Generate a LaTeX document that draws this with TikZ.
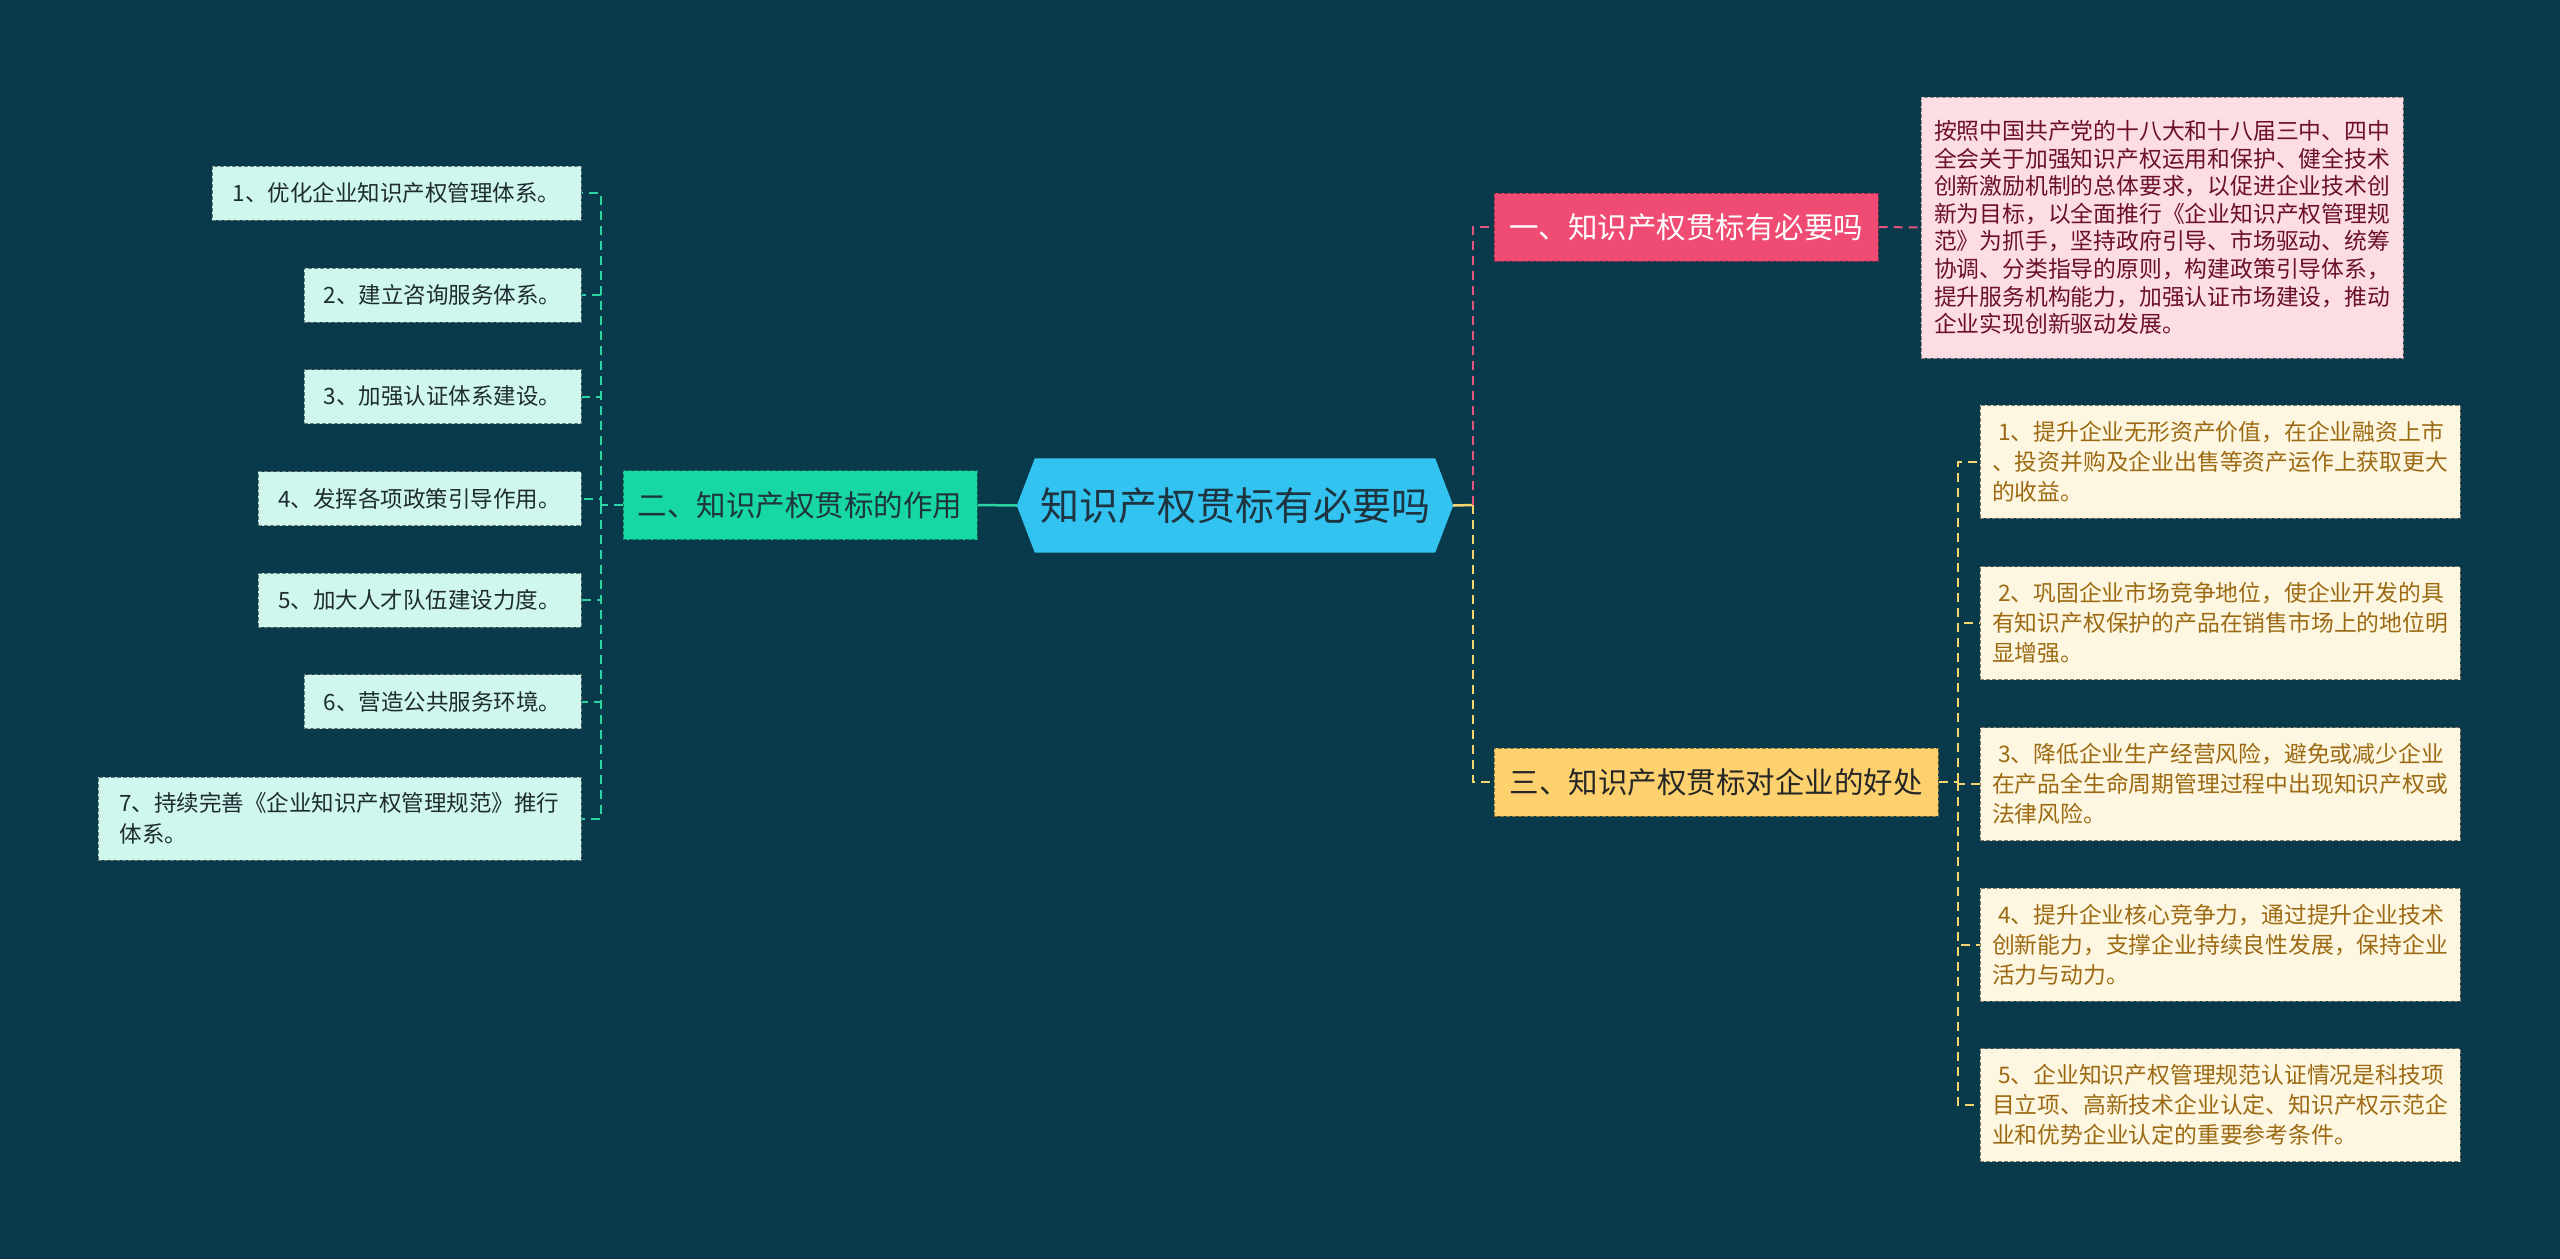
\documentclass[tikz,border=0pt]{standalone}
\usepackage{fontspec}
\newfontfamily\cjk{Noto Sans CJK SC}
\usetikzlibrary{calc}
\definecolor{bg}{RGB}{8,58,76}
\definecolor{ccol}{RGB}{51,195,240}
\definecolor{ctxt}{RGB}{30,52,64}
\definecolor{pcol}{RGB}{239,75,115}
\definecolor{ycol}{RGB}{253,210,110}
\definecolor{gcol}{RGB}{23,215,162}
\definecolor{dfill}{RGB}{252,221,227}
\definecolor{dtxt}{RGB}{107,16,40}
\definecolor{rfill}{RGB}{253,246,225}
\definecolor{rtxt}{RGB}{156,106,18}
\definecolor{lfill}{RGB}{207,247,238}
\definecolor{ltxt}{RGB}{30,43,48}
\definecolor{pline}{RGB}{228,85,126}
\definecolor{yline}{RGB}{245,214,110}
\definecolor{gline}{RGB}{44,211,163}
\begin{document}
\begin{tikzpicture}[x=1pt,y=-1pt,
  boxbase/.style={draw, dash pattern=on 4pt off 2pt, line width=1pt, inner sep=0pt},
  branchbox/.style={boxbase, font=\cjk\fontsize{29.5pt}{34pt}\selectfont},
  descbox/.style={boxbase, fill=dfill, draw=dfill!60!black, text=dtxt, align=left,
    minimum width=482, minimum height=261, font=\cjk\fontsize{22.8pt}{27.6pt}\selectfont},
  rbox/.style={boxbase, fill=rfill, draw=rfill!50!black, text=rtxt, align=left,
    minimum width=480, minimum height=113, font=\cjk\fontsize{22.8pt}{30pt}\selectfont},
  lbox/.style={boxbase, fill=lfill, draw=lfill!50!black, text=ltxt, align=left,
    minimum height=54, font=\cjk\fontsize{22.5pt}{31pt}\selectfont},
  conn/.style={line width=2pt, dash pattern=on 9pt off 6pt},
]
\useasboundingbox (0,0) rectangle (2560,1259);
\fill[bg] (0,0) rectangle (2560,1259);

% central node
\node[inner sep=0, minimum width=400, minimum height=94] (c) at (1235,505.5) {};
\fill[ccol] (c.north west) -- (c.north east) -- ($(c.east)+(18,0)$) -- (c.south east)
  -- (c.south west) -- ($(c.west)+(-18,0)$) -- cycle;
\node[font=\cjk\fontsize{39pt}{44pt}\selectfont, text=ctxt] (ct) at (c) {知识产权贯标有必要吗};
\coordinate (cE) at ($(c.east)+(18,0)$);
\coordinate (cW) at ($(c.west)+(-18,0)$);

% branches
\node[branchbox, fill=pcol, draw=pcol!60!black, text=white, minimum width=384, minimum height=68] (p) at (1686,227) {一、知识产权贯标有必要吗};
\node[branchbox, fill=ycol, draw=ycol!55!black, text=black!85, minimum width=444, minimum height=68] (y) at (1716,782) {三、知识产权贯标对企业的好处};
\node[branchbox, fill=gcol, draw=gcol!55!black, text=ctxt, minimum width=354, minimum height=69] (g) at (800,505) {二、知识产权贯标的作用};

% description
\node[descbox] (d) at (2162,227.5) {按照中国共产党的十八大和十八届三中、四中\\全会关于加强知识产权运用和保护、健全技术\\创新激励机制的总体要求，以促进企业技术创\\新为目标，以全面推行《企业知识产权管理规\\范》为抓手，坚持政府引导、市场驱动、统筹\\协调、分类指导的原则，构建政策引导体系，\\提升服务机构能力，加强认证市场建设，推动\\企业实现创新驱动发展。};

% right items
\node[rbox] (r1) at (2220,461.5) {\hspace{6pt}1、提升企业无形资产价值，在企业融资上市\\、投资并购及企业出售等资产运作上获取更大\\的收益。};
\node[rbox] (r2) at (2220,623) {\hspace{6pt}2、巩固企业市场竞争地位，使企业开发的具\\有知识产权保护的产品在销售市场上的地位明\\显增强。};
\node[rbox] (r3) at (2220,784) {\hspace{6pt}3、降低企业生产经营风险，避免或减少企业\\在产品全生命周期管理过程中出现知识产权或\\法律风险。};
\node[rbox] (r4) at (2220,944.5) {\hspace{6pt}4、提升企业核心竞争力，通过提升企业技术\\创新能力，支撑企业持续良性发展，保持企业\\活力与动力。};
\node[rbox] (r5) at (2220,1105) {\hspace{6pt}5、企业知识产权管理规范认证情况是科技项\\目立项、高新技术企业认定、知识产权示范企\\业和优势企业认定的重要参考条件。};

% left items
\node[lbox, minimum width=369] (l1) at (396.5,193) {1、优化企业知识产权管理体系。};
\node[lbox, minimum width=277] (l2) at (442.5,295) {2、建立咨询服务体系。};
\node[lbox, minimum width=277] (l3) at (442.5,396.5) {3、加强认证体系建设。};
\node[lbox, minimum width=323] (l4) at (419.5,498.5) {4、发挥各项政策引导作用。};
\node[lbox, minimum width=323] (l5) at (419.5,600) {5、加大人才队伍建设力度。};
\node[lbox, minimum width=277] (l6) at (442.5,701.5) {6、营造公共服务环境。};
\node[lbox, minimum width=483, minimum height=83] (l7) at (339.5,818.5) {7、持续完善《企业知识产权管理规范》推行\\体系。};

% connectors: central to green
\draw[gline, line width=2.5pt] (cW) -- (g.east);
% left trunk
\coordinate (lt) at (601,505);
\draw[conn, gline] (g.west) -- (lt);
\foreach \i in {1,...,7} { \draw[conn, gline] (lt) |- (l\i.east); }

% right side
\coordinate (rt) at (1473,505);
\draw[yline, line width=2.5pt] (cE) -- (rt);
\draw[conn, pline] (rt) |- (p.west);
\draw[conn, yline] (rt) |- (y.west);
\draw[conn, pline] (p.east) -- (d.west);
\coordinate (yt) at (1958,782);
\draw[conn, yline] (y.east) -- (yt);
\foreach \i in {1,...,5} { \draw[conn, yline] (yt) |- (r\i.west); }
\end{tikzpicture}
\end{document}
